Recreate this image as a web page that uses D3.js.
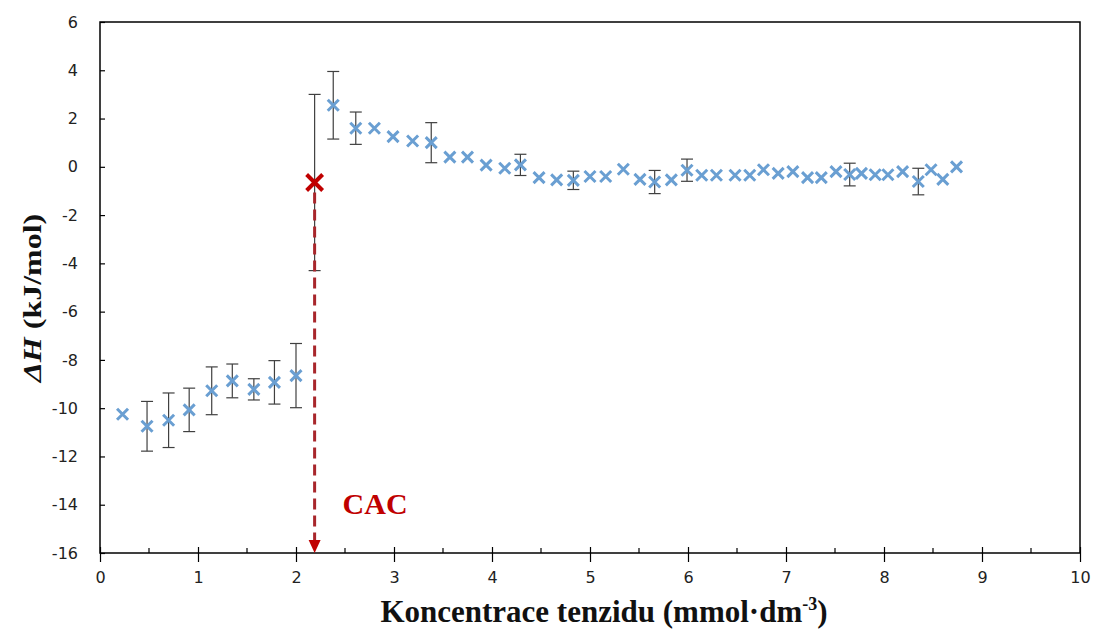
<!DOCTYPE html>
<html>
<head>
<meta charset="utf-8">
<script src="https://cdn.jsdelivr.net/npm/d3@7"></script>
<style>
  html, body { margin: 0; padding: 0; background: #fff; }
  svg { display: block; }
</style>
</head>
<body>
<svg id="chart" width="1095" height="642"></svg>
<script>
// ---- data ----
const conc = [0.23, 0.48, 0.70, 0.91, 1.14, 1.35, 1.57, 1.78, 2.00,
  2.38, 2.61, 2.80, 2.99, 3.19, 3.38, 3.57, 3.75, 3.94,
  4.13, 4.29, 4.48, 4.66, 4.83, 5.00, 5.16, 5.34, 5.51, 5.66,
  5.83, 5.99, 6.14, 6.29, 6.48, 6.63, 6.77, 6.92, 7.07, 7.22,
  7.36, 7.51, 7.65, 7.77, 7.91, 8.04, 8.19, 8.35, 8.48, 8.60,
  8.74];
const dH = [-10.25, -10.75, -10.5, -10.07, -9.28, -8.87, -9.22, -8.93, -8.65,
  2.55, 1.6, 1.6, 1.25, 1.07, 1.0, 0.4, 0.4, 0.07,
  -0.06, 0.08, -0.45, -0.54, -0.56, -0.40, -0.40, -0.10, -0.52, -0.63,
  -0.54, -0.14, -0.35, -0.35, -0.35, -0.35, -0.12, -0.27, -0.20, -0.45,
  -0.45, -0.20, -0.32, -0.27, -0.33, -0.33, -0.20, -0.61, -0.12, -0.52,
  0.0];
const err = [0, 1.03, 1.13, 0.9, 0.99, 0.7, 0.44, 0.9, 1.33,
  1.4, 0.67, 0, 0, 0, 0.83, 0, 0, 0,
  0, 0.44, 0, 0, 0.38, 0, 0, 0, 0, 0.48,
  0, 0.46, 0, 0, 0, 0, 0, 0, 0, 0,
  0, 0, 0.47, 0, 0, 0, 0, 0.55, 0, 0,
  0];
const cacX = [2.19];
const cacY = [-0.65];
const cacErr = [3.65];
const cacLabel = "CAC";
const xTicks = [0, 1, 2, 3, 4, 5, 6, 7, 8, 9, 10];
const xMinorTicks = [0.5, 1.5, 2.5, 3.5, 4.5, 5.5, 6.5, 7.5, 8.5, 9.5];
const yTicks = [6, 4, 2, 0, -2, -4, -6, -8, -10, -12, -14, -16];
const xTitle = "Koncentrace tenzidu (mmol·dm";
const xTitleSup = "-3";
const yTitleItalic = "ΔH";
const yTitleRest = " (kJ/mol)";

// ---- layout ----
const svg = d3.select("#chart");
const pL = 100, pR = 1080, pT = 22, pB = 553;
const x = d3.scaleLinear().domain([0, 10]).range([pL, pR]);
const y = d3.scaleLinear().domain([-16, 6]).range([pB, pT]);

const blue = "#6a9fd2";
const red = "#c00000";
const dashRed = "#a8262b";
const errCol = "#404040";

// frame
svg.append("rect")
  .attr("x", pL).attr("y", pT)
  .attr("width", pR - pL).attr("height", pB - pT)
  .attr("fill", "none").attr("stroke", "#000").attr("stroke-width", 1.5);

// y axis (ticks inward)
const yAxis = d3.axisLeft(y).tickValues(yTicks).tickSize(-5).tickPadding(22)
  .tickFormat(d => String(d));
const gy = svg.append("g").attr("transform", `translate(${pL},0)`).call(yAxis);
gy.select(".domain").remove();
gy.selectAll("line").attr("stroke", "#000").attr("stroke-width", 1.2);
gy.selectAll("text").attr("font-family", "'DejaVu Sans', sans-serif")
  .attr("font-size", 16).attr("fill", "#222");

// x axis: major ticks crossing, minor inside
const xAxis = d3.axisBottom(x).tickValues(xTicks).tickSize(9).tickPadding(10)
  .tickFormat(d => String(d));
const gx = svg.append("g").attr("transform", `translate(0,${pB})`).call(xAxis);
gx.select(".domain").remove();
gx.selectAll(".tick line").attr("y1", -6).attr("stroke", "#000").attr("stroke-width", 1.2);
gx.selectAll("text").attr("font-family", "'DejaVu Sans', sans-serif")
  .attr("font-size", 16).attr("fill", "#222");
svg.append("g").selectAll("line").data(xMinorTicks).join("line")
  .attr("x1", d => x(d)).attr("x2", d => x(d))
  .attr("y1", pB - 5).attr("y2", pB)
  .attr("stroke", "#000").attr("stroke-width", 1.2);

// data rows
const rows = conc.map((c, i) => ({ x: c, y: dH[i], e: err[i] }));
const cac = cacX.map((c, i) => ({ x: c, y: cacY[i], e: cacErr[i] }));

// error bars
function drawErr(data, cap) {
  const g = svg.append("g").attr("stroke", errCol).attr("stroke-width", 1.2);
  const d2 = data.filter(d => d.e > 0);
  g.selectAll(".v").data(d2).join("line").attr("class", "v")
    .attr("x1", d => x(d.x)).attr("x2", d => x(d.x))
    .attr("y1", d => y(d.y + d.e)).attr("y2", d => y(d.y - d.e));
  g.selectAll(".t").data(d2).join("line").attr("class", "t")
    .attr("x1", d => x(d.x) - cap).attr("x2", d => x(d.x) + cap)
    .attr("y1", d => y(d.y + d.e)).attr("y2", d => y(d.y + d.e));
  g.selectAll(".b").data(d2).join("line").attr("class", "b")
    .attr("x1", d => x(d.x) - cap).attr("x2", d => x(d.x) + cap)
    .attr("y1", d => y(d.y - d.e)).attr("y2", d => y(d.y - d.e));
}
drawErr(rows, 6);
drawErr(cac, 6);

// dashed CAC line with arrow
const ds = svg.append("g");
ds.selectAll("line").data(cac).join("line")
  .attr("x1", d => x(d.x)).attr("x2", d => x(d.x))
  .attr("y1", d => y(d.y) + 10).attr("y2", pB - 10)
  .attr("stroke", dashRed).attr("stroke-width", 3)
  .attr("stroke-dasharray", "11,6");
ds.selectAll("path").data(cac).join("path")
  .attr("d", d => `M${x(d.x) - 6},${pB - 13} L${x(d.x) + 6},${pB - 13} L${x(d.x)},${pB} Z`)
  .attr("fill", red);

// x markers
function xMark(g, data, s, color, w) {
  g.selectAll("path").data(data).join("path")
    .attr("d", d => {
      const cx = x(d.x), cy = y(d.y);
      return `M${cx - s},${cy - s}L${cx + s},${cy + s}M${cx - s},${cy + s}L${cx + s},${cy - s}`;
    })
    .attr("stroke", color).attr("stroke-width", w).attr("fill", "none");
}
xMark(svg.append("g"), rows, 5.5, blue, 3);
xMark(svg.append("g"), cac, 8, red, 4);

// CAC label
svg.append("g").selectAll("text").data(cac).join("text")
  .attr("x", d => x(d.x) + 28).attr("y", 514)
  .attr("font-family", "'Liberation Serif', serif").attr("font-weight", "bold")
  .attr("font-size", 30).attr("fill", red).text(cacLabel);

// axis titles
const xt = svg.append("text")
  .attr("x", 604).attr("y", 622)
  .attr("text-anchor", "middle")
  .attr("font-family", "'Liberation Serif', serif").attr("font-weight", "bold")
  .attr("font-size", 31).attr("fill", "#111");
xt.append("tspan").text(xTitle);
xt.append("tspan").attr("font-size", 18).attr("dy", -12).text(xTitleSup);
xt.append("tspan").attr("dy", 12).text(")");

const yt = svg.append("text")
  .attr("transform", `translate(41,298) scale(0.8,1) rotate(-90)`)
  .attr("text-anchor", "middle")
  .attr("font-family", "'Liberation Serif', serif").attr("font-weight", "bold")
  .attr("font-size", 32).attr("fill", "#111");
yt.append("tspan").attr("font-style", "italic").text(yTitleItalic);
yt.append("tspan").text(yTitleRest);
</script>
</body>
</html>
